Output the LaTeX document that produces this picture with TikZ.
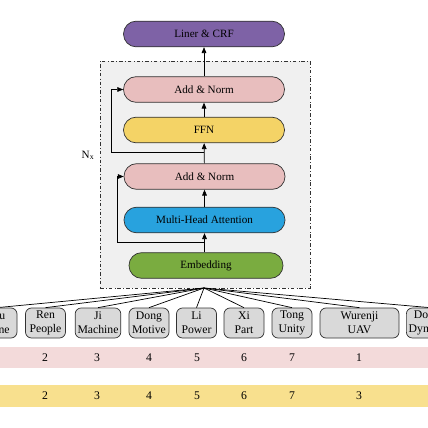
\documentclass[tikz,border=0pt]{standalone}
\usepackage{fontspec}
\setmainfont{Liberation Serif}
\usepackage{tikz}
\usetikzlibrary{arrows.meta}
\definecolor{linerpurple}{RGB}{126,98,166}
\definecolor{normpink}{RGB}{232,190,190}
\definecolor{ffnyellow}{RGB}{244,211,102}
\definecolor{attblue}{RGB}{40,162,222}
\definecolor{embgreen}{RGB}{122,172,64}
\definecolor{bandpink}{RGB}{243,218,218}
\definecolor{bandyellow}{RGB}{248,224,142}
\definecolor{tokgray}{RGB}{217,217,217}
\definecolor{boxgray}{RGB}{240,240,240}
\definecolor{edgegray}{RGB}{50,50,50}

\begin{document}
\begin{tikzpicture}[
  x=0.03cm,y=-0.03cm,
  every node/.style={font=\fontsize{9.5}{11.5}\selectfont},
  layer/.style={draw=edgegray,line width=0.6pt,rounded corners=0.38cm,
   minimum width=4.83cm,minimum height=0.77cm,inner sep=0pt},
  token/.style={draw=edgegray,line width=0.6pt,fill=tokgray,rounded corners=0.18cm,
   align=center,minimum width=1.2cm,minimum height=0.9cm,inner sep=2pt,
   font=\fontsize{10}{12}\selectfont},
  band/.style={draw=none,inner sep=0pt,minimum width=12.84cm,minimum height=0.65cm},
  num/.style={font=\fontsize{10}{12}\selectfont},
  arr/.style={-{Triangle[length=5pt,width=4pt]},line width=0.6pt},
  fan/.style={line width=0.6pt}
  ]
  \useasboundingbox (0,0) rectangle (428,428);

  % encoder block
  \node[draw=edgegray,dash dot,line width=0.6pt,fill=boxgray,minimum width=6.3cm,
   minimum height=6.81cm,inner sep=0pt] (encbox) at (205,174.5) {};
  \node (nx) at (88,155) {N$_\mathrm{x}$};

  \node[layer,fill=linerpurple] (liner) at (204,34) {Liner \& CRF};
  \node[layer,fill=normpink] (addnormA) at (204,89.5) {Add \& Norm};
  \node[layer,fill=ffnyellow] (ffn) at (204,130) {FFN};
  \node[layer,fill=normpink] (addnormB) at (204.5,176.5) {Add \& Norm};
  \node[layer,fill=attblue] (mha) at (204.5,220) {Multi-Head Attention};
  \node[layer,fill=embgreen,minimum width=4.62cm] (embed) at (206,265.5) {Embedding};

  \draw[arr] (addnormA) -- (liner);
  \draw[arr] (ffn) -- (addnormA);
  \draw[arr] (addnormB) -- (ffn);
  \draw[arr] (mha) -- (addnormB);
  \draw[arr] (embed.north -| mha.south) -- (mha.south);

  % residual paths
  \coordinate (tapA) at (204,152);
  \coordinate (tapB) at (204.5,242);
  \draw[arr] (tapA) -- (111,152) |- (addnormA.west);
  \draw[arr] (tapB) -- (117,242) |- (addnormB.west);

  % tokens
  \coordinate (hub) at (204,288);
  \node[token] (tokWu) at (-3,323) {Wu\\None};
  \node[token] (tokRen) at (45.5,323) {Ren\\People};
  \node[token] (tokJi) at (98,323) {Ji\\Machine};
  \node[token] (tokDong) at (149,323) {Dong\\Motive};
  \node[token] (tokLi) at (196.5,323) {Li\\Power};
  \node[token] (tokXi) at (244,323) {Xi\\Part};
  \node[token] (tokTong) at (292,323) {Tong\\Unity};
  \node[token,minimum width=2.37cm] (tokWurenji) at (359.5,323) {Wurenji\\UAV};
  \node[token,anchor=west] (tokDongli) at (406,323) {Dongli\\Dynamic};
  \foreach \t in {tokWu,tokRen,tokJi,tokDong,tokLi,tokXi,tokTong,tokWurenji,tokDongli}
   \draw[fan] (hub) -- (\t.north);

  % label rows
  \node[band,fill=bandpink] (rowA) at (214,357.5) {};
  \node[band,fill=bandyellow] (rowB) at (214,396) {};
  \foreach \xx/\a/\b in {45/2/2,97/3/3,149/4/4,197/5/5,244/6/6,292/7/7,359/1/3} {
   \node[num] (numA\xx) at (\xx,357.5) {\a};
   \node[num] (numB\xx) at (\xx,396) {\b};
  }
\end{tikzpicture}
\end{document}
